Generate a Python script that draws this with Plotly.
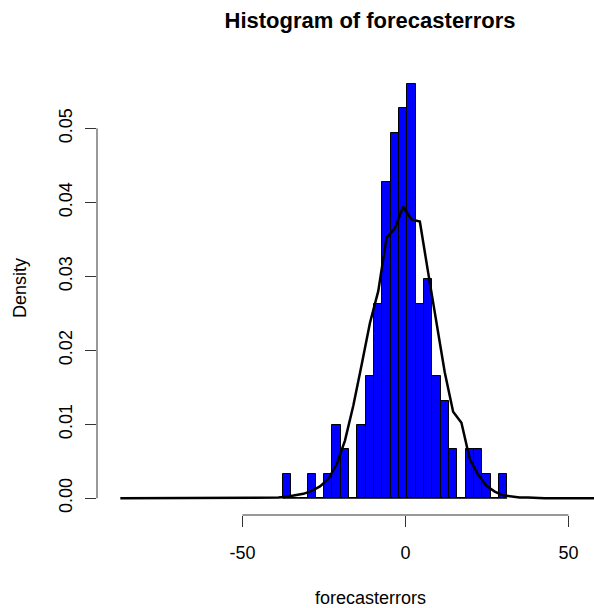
import plotly.graph_objects as go

# ---- data ----
bin_left = [-37.68, -35.128, -32.576, -30.024, -27.472, -24.92, -22.368, -19.816,
            -17.264, -14.712, -12.16, -9.608, -7.056, -4.504, -1.952, 0.6, 3.152,
            5.704, 8.256, 10.808, 13.36, 15.912, 18.464, 21.016, 23.568, 26.12, 28.672]
bin_width = 2.552
density = [0.0033, 0.0, 0.0, 0.0033, 0.0, 0.0033, 0.0099, 0.0066,
           0.0, 0.0099, 0.0165, 0.0263, 0.0428, 0.0494, 0.0527, 0.0560, 0.0263,
           0.0296, 0.0165, 0.0132, 0.0066, 0.0, 0.0066, 0.0066, 0.0033, 0.0, 0.0033]

curve_x = [-87.44, -84.89, -82.34, -79.79, -77.24, -74.68, -72.13, -69.58, -67.03,
           -64.48, -61.92, -59.37, -56.82, -54.27, -51.72, -49.16, -46.61, -44.06,
           -41.51, -38.96, -36.40, -33.85, -31.30, -28.75, -26.20, -23.64, -21.09,
           -18.54, -15.99, -13.44, -10.88, -8.33, -5.78, -3.23, -0.68, 1.88, 4.43,
           6.98, 9.53, 12.08, 14.64, 17.19, 19.74, 22.29, 24.84, 27.40, 29.95, 32.50,
           35.05, 37.60, 40.16, 42.71, 45.26, 47.81, 50.36, 52.92, 55.47, 58.02]
curve_y = [0.0, 0.0, 0.0, 0.0, 0.0, 0.0, 0.0, 0.0, 0.0,
           0.0, 0.0, 0.0, 0.0, 0.0, 0.0, 0.0, 0.0, 0.0,
           0.0001, 0.0001, 0.0002, 0.0004, 0.0006, 0.0010, 0.0016, 0.0026, 0.0046,
           0.0078, 0.0125, 0.0180, 0.0237, 0.0280, 0.0352, 0.0365, 0.0394, 0.0377, 0.0374,
           0.0305, 0.0238, 0.0170, 0.0117, 0.0102, 0.0053, 0.0032, 0.0017, 0.0009, 0.0004, 0.0002,
           0.0001, 0.0001, 0.0, 0.0, 0.0, 0.0, 0.0, 0.0, 0.0, 0.0]

x_ticks = [-50, 0, 50]
y_ticks = [0.00, 0.01, 0.02, 0.03, 0.04, 0.05]

title_text = "Histogram of forecasterrors"
x_label = "forecasterrors"
y_label = "Density"

FONT = "Liberation Sans, Arial, Helvetica, sans-serif"

mids = [l + bin_width / 2 for l in bin_left]

fig = go.Figure()
# zero-height baseline under the histogram (R draws empty bins as a flat border)
fig.add_trace(go.Scatter(x=[bin_left[0], bin_left[-1] + bin_width], y=[0, 0], mode="lines",
                         line=dict(color="black", width=1), hoverinfo="skip", showlegend=False))
fig.add_trace(go.Bar(x=mids, y=density, width=bin_width,
                     marker=dict(color="#0000FF", line=dict(color="black", width=1)),
                     showlegend=False))
fig.add_trace(go.Scatter(x=curve_x, y=curve_y, mode="lines",
                         line=dict(color="black", width=2.5), showlegend=False))

fig.update_layout(
    width=594, height=608,
    margin=dict(l=97, r=0, t=64, b=93),
    paper_bgcolor="white", plot_bgcolor="white",
    font=dict(family=FONT, size=18, color="black"),
    bargap=0,
    title=dict(text="<b>" + title_text + "</b>", x=0.5493, xref="paper", xanchor="center",
               y=1 - 20 / 608, yref="container", yanchor="middle",
               font=dict(family=FONT, size=22, color="black")),
    xaxis=dict(range=[-94.6, 57.85], showgrid=False, zeroline=False, showline=False,
               tickmode="array", tickvals=x_ticks, ticktext=[str(v) for v in x_ticks],
               ticks="outside", ticklen=11, tickwidth=1, tickcolor="#333",
               ticklabelstandoff=10, tickfont=dict(size=18)),
    yaxis=dict(range=[-0.00226, 0.0587], showgrid=False, zeroline=False, showline=False,
               tickmode="array", tickvals=y_ticks, ticktext=["%.2f" % v for v in y_ticks],
               ticks="outside", ticklen=11, tickwidth=1, tickcolor="#333",
               tickangle=-90, ticklabelstandoff=6, tickfont=dict(size=18)),
    shapes=[
        dict(type="line", xref="x", yref="paper", x0=min(x_ticks), x1=max(x_ticks), y0=0, y1=0,
             line=dict(color="#333", width=1)),
        dict(type="line", xref="paper", yref="y", x0=0, x1=0, y0=min(y_ticks), y1=max(y_ticks),
             line=dict(color="#333", width=1)),
    ],
    annotations=[
        dict(text=x_label, xref="paper", yref="paper", x=0.5493, y=-0.184,
             xanchor="center", yanchor="middle", showarrow=False, font=dict(size=18)),
        dict(text=y_label, xref="paper", yref="paper", x=-0.155, y=0.503, textangle=-90,
             xanchor="center", yanchor="middle", showarrow=False, font=dict(size=18)),
    ],
)

fig.write_html("out.html")
